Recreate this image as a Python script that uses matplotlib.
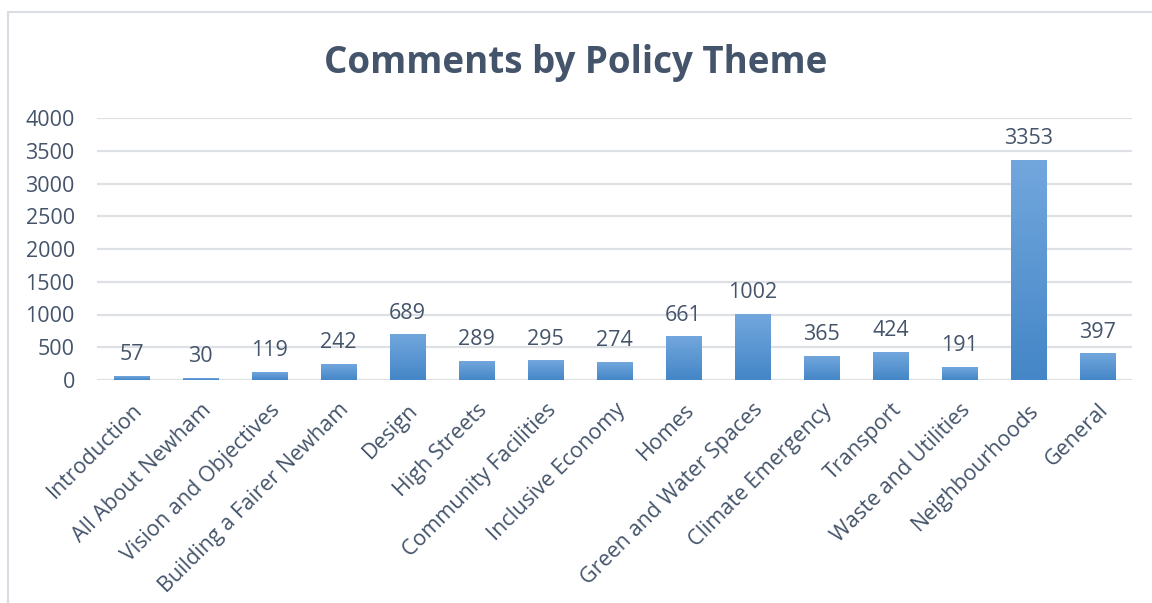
import matplotlib
matplotlib.use("Agg")
import matplotlib.pyplot as plt
import numpy as np
from matplotlib.patches import Rectangle
from matplotlib.colors import LinearSegmentedColormap

categories = ["Introduction", "All About Newham", "Vision and Objectives",
              "Building a Fairer Newham", "Design", "High Streets",
              "Community Facilities", "Inclusive Economy", "Homes",
              "Green and Water Spaces", "Climate Emergency", "Transport",
              "Waste and Utilities", "Neighbourhoods", "General"]
values = [57, 30, 119, 242, 689, 289, 295, 274, 661, 1002, 365, 424, 191, 3353, 397]
yticks = [0, 500, 1000, 1500, 2000, 2500, 3000, 3500, 4000]
title = "Comments by Policy Theme"

txt = "#44546A"
plt.rcParams['font.family'] = ['Open Sans', 'DejaVu Sans']

fig = plt.figure(figsize=(11.52, 6.03), dpi=100)
fig.patches.append(Rectangle((8/1152, -0.1), 1.2, 1 - 12/603 + 0.1, transform=fig.transFigure,
                             fill=False, edgecolor="#D9DDE3", linewidth=1.5))
ax = fig.add_axes([97/1152, 1 - 380/603, (1132-97)/1152, (380-118)/603])

cmap = LinearSegmentedColormap.from_list("g", ["#4486C7", "#72A7DD"])
grad = np.linspace(0, 1, 256).reshape(-1, 1)
x = np.arange(len(categories))
w = 0.52
for xi, v in zip(x, values):
    ax.imshow(grad, cmap=cmap, origin="lower", aspect="auto",
              extent=(xi - w/2, xi + w/2, 0, v), zorder=3)
    ax.annotate(str(v), (xi, v), xytext=(0, 8), textcoords="offset points",
                ha="center", va="bottom", fontsize=15.5, color=txt)

ax.set_xlim(-0.5, len(categories) - 0.5)
ax.set_ylim(0, 4000)
ax.set_yticks(yticks)
ax.set_yticklabels([str(t) for t in yticks], fontsize=15.5, color=txt)
ax.set_xticks(x)
ax.set_xticklabels(categories, rotation=45, ha="right", va="top",
                   rotation_mode="anchor", fontsize=15.5, color=txt)
ax.tick_params(axis="both", length=0)
ax.tick_params(axis="y", pad=16)
ax.tick_params(axis="x", pad=14)
for s in ax.spines.values():
    s.set_visible(False)
ax.grid(axis="y", color="#DDE1E6", linewidth=1.6, zorder=0)
ax.set_axisbelow(True)

fig.text(576/1152, 1 - 63/603, title, ha="center", va="center",
         fontsize=26.5, fontweight="bold", color=txt)

fig.savefig("out.png", dpi=100)
